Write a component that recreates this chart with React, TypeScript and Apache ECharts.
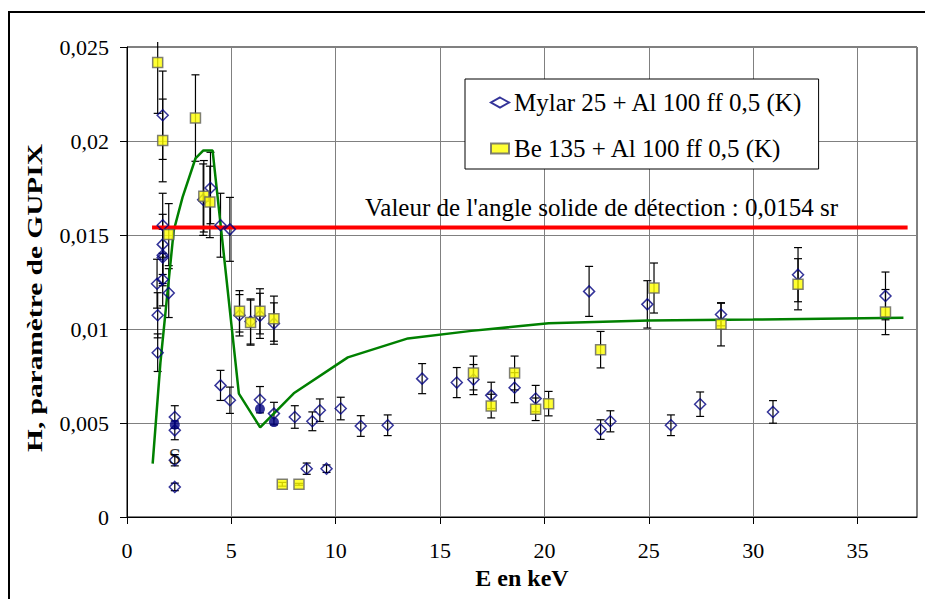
import React, { useEffect, useRef } from 'react';
import * as echarts from 'echarts';

const SERIF = 'Liberation Serif, serif';

const xTicks = [0, 5, 10, 15, 20, 25, 30, 35];
const yTicks = [0, 0.005, 0.01, 0.015, 0.02, 0.025];

const mylarName = 'Mylar 25 + Al 100 ff 0,5 (K)';
const beName = 'Be 135 + Al 100 ff 0,5 (K)';

const mylarX = [1.47, 1.47, 1.44, 1.71, 1.71, 1.71, 1.71, 1.71, 1.71, 2.0, 2.29, 2.29, 2.29, 2.29, 3.65, 4.0, 4.48, 4.93, 4.48, 4.93, 5.39, 5.92, 6.37, 7.04, 6.37, 7.04, 8.04, 8.88, 9.24, 8.61, 9.56, 10.24, 11.2, 12.49, 14.14, 15.8, 16.6, 17.45, 18.57, 19.58, 22.14, 22.69, 23.16, 24.93, 26.06, 27.46, 28.46, 30.95, 32.15, 36.34];
const mylarY = [0.00874, 0.01073, 0.01241, 0.01263, 0.0138, 0.01392, 0.0145, 0.01552, 0.02137, 0.01191, 0.00532, 0.00461, 0.00302, 0.0016, 0.01688, 0.0175, 0.01552, 0.0153, 0.007, 0.00621, 0.01073, 0.0104, 0.0107, 0.01029, 0.00624, 0.0055, 0.00532, 0.00509, 0.00568, 0.00257, 0.00257, 0.00577, 0.00484, 0.00488, 0.00736, 0.00715, 0.00731, 0.00647, 0.00688, 0.0063, 0.012, 0.00465, 0.00509, 0.01131, 0.00488, 0.006, 0.01077, 0.00559, 0.01289, 0.01176];
const mylarErr = [0.001, 0.0012, 0.0013, 0.0014, 0.0015, 0.0015, 0.0016, 0.0017, 0.00235, 0.0013, 0.0006, 0.0005, 0.0003, 0.0002, 0.0019, 0.0019, 0.0017, 0.0017, 0.0008, 0.0007, 0.0011, 0.0012, 0.0012, 0.0011, 0.0007, 0.0006, 0.0006, 0.0005, 0.0006, 0.0003, 0.0002, 0.0006, 0.00055, 0.00055, 0.0008, 0.0008, 0.0008, 0.0007, 0.0008, 0.0007, 0.00133, 0.00052, 0.00056, 0.00126, 0.00055, 0.00065, 0.0006, 0.0006, 0.00144, 0.00127];

const beX = [1.47, 1.71, 2.0, 3.28, 3.68, 3.97, 5.39, 5.92, 6.37, 7.04, 7.44, 8.24, 16.6, 17.45, 18.57, 19.58, 20.2, 22.69, 25.25, 28.46, 32.15, 36.34];
const beY = [0.02417, 0.02003, 0.01502, 0.02122, 0.01706, 0.01676, 0.01094, 0.01034, 0.01094, 0.01055, 0.00174, 0.00174, 0.00766, 0.0059, 0.00766, 0.00573, 0.00603, 0.0089, 0.01218, 0.01025, 0.01238, 0.0109];
const beErr = [0.0027, 0.0022, 0.00165, 0.0023, 0.0019, 0.0019, 0.0011, 0.0012, 0.0012, 0.0012, 0.0001, 0.00005, 0.0009, 0.00063, 0.0009, 0.0006, 0.00065, 0.00097, 0.00133, 0.00115, 0.00136, 0.0012];

const dotX = [2.29, 6.37, 7.04];
const dotY = [0.00491, 0.00575, 0.00505];

const fitX = [1.23, 1.6, 2.24, 2.66, 3.28, 3.66, 4.1, 5.36, 6.38, 7.99, 10.58, 13.46, 16.5, 20.2, 25, 30, 37.2];
const fitY = [0.00284, 0.0082, 0.01524, 0.017, 0.01907, 0.0195, 0.0195, 0.00656, 0.00477, 0.00658, 0.00849, 0.0095, 0.0099, 0.0103, 0.01045, 0.0105, 0.0106];

const solidAngle = 0.0154;
const solidLineX = [1.2, 37.4];
const solidLabel = "Valeur de l'angle solide de détection : 0,0154 sr";

const sLabelX = [2.29];
const sLabelY = [0.0032];
const sLabelText = ['S'];

const fmt = (v: number) => String(Number(v.toFixed(4))).replace('.', ',');

function errorSeries(xs: number[], ys: number[], errs: number[], z: number) {
  return {
    type: 'custom',
    silent: true,
    z,
    renderItem: (params: any, api: any) => {
      const x = api.value(0);
      const lo = api.value(1);
      const hi = api.value(2);
      const pLo = api.coord([x, lo]);
      const pHi = api.coord([x, hi]);
      const cs = params.coordSys;
      const clipped = pHi[1] < cs.y - 5;
      const top = clipped ? cs.y - 5 : pHi[1];
      const w = 4;
      const style = { stroke: '#000', lineWidth: 1.2 };
      const children: any[] = [
        { type: 'line', shape: { x1: pLo[0], y1: top, x2: pLo[0], y2: pLo[1] }, style },
        { type: 'line', shape: { x1: pLo[0] - w, y1: pLo[1], x2: pLo[0] + w, y2: pLo[1] }, style },
      ];
      if (!clipped) {
        children.push({ type: 'line', shape: { x1: pLo[0] - w, y1: top, x2: pLo[0] + w, y2: top }, style });
      }
      return { type: 'group', children };
    },
    data: xs.map((x, i) => [x, ys[i] - errs[i], ys[i] + errs[i]]),
    encode: { x: 0, y: [1, 2] },
  };
}

export default function App() {
  const ref = useRef<HTMLDivElement>(null);
  useEffect(() => {
    if (!ref.current) return;
    const chart = echarts.init(ref.current, null, { renderer: 'svg' });
    const option: any = {
      animation: false,
      backgroundColor: '#fff',
      textStyle: { fontFamily: SERIF, color: '#000' },
      grid: {
        left: 127, top: 47, width: 790, height: 470,
        show: true, borderColor: '#000', borderWidth: 1, backgroundColor: 'transparent',
      },
      legend: {
        data: [mylarName, beName],
        orient: 'vertical',
        left: 465,
        top: 79,
        padding: [11, 16, 8, 25],
        itemGap: 21,
        itemWidth: 18,
        itemHeight: 10,
        backgroundColor: '#fff',
        borderColor: '#000',
        borderWidth: 1,
        textStyle: { fontFamily: SERIF, fontSize: 25, color: '#000' },
      },
      xAxis: {
        type: 'value',
        min: 0,
        max: 37.85,
        interval: 5,
        name: 'E en keV',
        nameLocation: 'middle',
        nameGap: 49,
        nameTextStyle: { fontFamily: SERIF, fontSize: 24, fontWeight: 'bold', color: '#000' },
        axisLine: { show: true, lineStyle: { color: '#000', width: 1 } },
        axisTick: { show: true, inside: false, length: 7, lineStyle: { color: '#000' }, customValues: xTicks },
        axisLabel: {
          fontFamily: SERIF, fontSize: 22, color: '#000', margin: 22,
          customValues: xTicks,
          formatter: (v: number) => String(v),
        },
        splitLine: { show: true, lineStyle: { color: '#808080', width: 1 } },
      },
      yAxis: {
        type: 'value',
        min: 0,
        max: 0.025,
        interval: 0.005,
        axisLine: { show: true, lineStyle: { color: '#000', width: 1 } },
        axisTick: { show: true, inside: false, length: 7, lineStyle: { color: '#000' }, customValues: yTicks },
        axisLabel: {
          fontFamily: SERIF, fontSize: 22, color: '#000', margin: 18,
          customValues: yTicks,
          formatter: (v: number) => fmt(v),
        },
        splitLine: { show: true, lineStyle: { color: '#808080', width: 1 } },
      },
      graphic: [
        {
          type: 'rect',
          shape: { x: 9, y: 12, width: 1000, height: 1000 },
          style: { fill: 'none', stroke: '#000', lineWidth: 2 },
          silent: true,
          z: -10,
        },
        {
          type: 'text',
          x: 35,
          y: 298,
          rotation: Math.PI / 2,
          scaleX: 1.4,
          scaleY: 1,
          style: {
            text: 'H, paramètre de GUPIX',
            fontFamily: SERIF, fontSize: 21, fontWeight: 'bold', fill: '#000',
            textAlign: 'center', textVerticalAlign: 'middle',
          },
        },
        {
          type: 'text',
          x: 365,
          y: 207,
          style: {
            text: solidLabel,
            fontFamily: SERIF, fontSize: 25, fill: '#000',
            textAlign: 'left', textVerticalAlign: 'middle',
          },
          z: 50,
        },
      ],
      series: [
        errorSeries(mylarX, mylarY, mylarErr, 2),
        errorSeries(beX, beY, beErr, 2),
        {
          name: 'fit',
          type: 'line',
          data: fitX.map((x, i) => [x, fitY[i]]),
          showSymbol: false,
          symbol: 'none',
          lineStyle: { color: '#008000', width: 2.5 },
          z: 3,
          silent: true,
        },
        {
          name: 'solid',
          type: 'line',
          data: solidLineX.map((x) => [x, solidAngle]),
          showSymbol: false,
          symbol: 'none',
          lineStyle: { color: '#FF0000', width: 4 },
          z: 3,
          silent: true,
        },
        {
          name: mylarName,
          type: 'scatter',
          data: mylarX.map((x, i) => [x, mylarY[i]]),
          symbol: 'diamond',
          symbolSize: 11,
          itemStyle: { color: 'rgba(255,255,255,0)', borderColor: '#000080', borderWidth: 1.5 },
          z: 4,
        },
        {
          name: 'dots',
          type: 'scatter',
          data: dotX.map((x, i) => [x, dotY[i]]),
          symbol: 'circle',
          symbolSize: 10,
          itemStyle: { color: '#000080' },
          z: 5,
        },
        {
          name: beName,
          type: 'scatter',
          data: beX.map((x, i) => [x, beY[i]]),
          symbol: 'rect',
          symbolSize: 10,
          itemStyle: { color: '#FFFF00', borderColor: '#606060', borderWidth: 1.5 },
          z: 6,
        },
        {
          name: 'labels',
          type: 'scatter',
          data: sLabelX.map((x, i) => [x, sLabelY[i]]),
          symbolSize: 0,
          label: {
            show: true,
            position: 'inside',
            formatter: (p: any) => sLabelText[p.dataIndex],
            fontFamily: SERIF, fontSize: 23, color: '#000',
          },
          z: 7,
        },
      ],
    };
    chart.setOption(option);
    return () => chart.dispose();
  }, []);
  return (
    <div
      ref={ref}
      style={{ position: 'fixed', left: 0, top: 0, width: 925, height: 599 }}
    />
  );
}
